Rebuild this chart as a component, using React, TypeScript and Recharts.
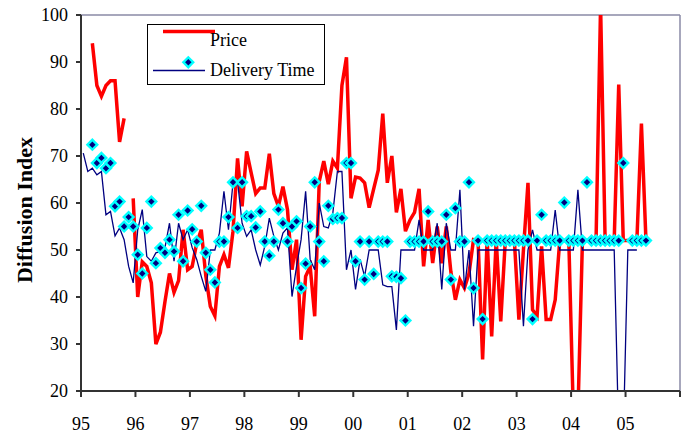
import { ComposedChart, Line, XAxis, YAxis, ReferenceLine, Legend, Label } from 'recharts';

// monthly values, index 0 = Jan 1995
const priceValues: (number | null)[] = [
  null, null, 94, 85, 82.7, 85, 86, 86, 73, 78, null, 61,
  40, 47.5, 46.5, 43, 30, 32.5, 39, 45, 41, 43.5, 54.3, 45.8,
  46.5, 51.5, 54.3, 44.5, 38, 36, 46.5, 49, 46.2, 54, 69.5, 59.3,
  71, 66.4, 62, 63.2, 63.2, 70.5, 62, 59.3, 63.5, 58.6, 45.8, 52.2,
  30.9, 44.4, 46.5, 35.9, 64.6, 68.9, 64, 68.9, 67.4, 85, 91, 61,
  65.5, 65.3, 64.3, 59, 63, 67, 79, 64.3, 70, 58, 63, 54,
  56.4, 58, 63, 46.5, 56.4, 47.2, 55, 47.2, 55, 45.4, 39.4, 43.7,
  41.9, 45, 52.2, 52, 26.7, 52.2, 31.6, 52.2, 34.8, 52, 52, 52,
  35.2, 50, 64.3, 37.3, 35.9, 50.8, 35.2, 35.2, 39.4, 52, 52, 52,
  15, 15, 52, 52, 52, 52, 102, 52, 52, 52, 85.2, 52,
  52, 52, 52, 76.9, 52,
];

const deliveryValues: (number | null)[] = [
  70.6, 66.7, 67.4, 66, 66.7, 57.5, 58.2, 53, 54.7, 52.2, 46.5, 43,
  54.3, 58.6, 48.6, 47.6, 49.4, 49.7, 50.5, 55.7, 47.6, 55.7, 52.2, 54.3,
  50.5, 48, 44.4, 41.2, 50, 50, 53.6, 62.5, 54.3, 64.3, 64.6, 55.7,
  52.9, 54.3, 50, 46.8, 50.8, 56.8, 52.9, 50, 53.6, 54.7, 40.1, 46.5,
  52.2, 62.5, 48, 45.8, 60, 55, 54.7, 57.9, 66.7, 66.7, 45.8, 50,
  41.6, 48, 44.4, 50, 50, 50, 42.6, 42.2, 42.2, 33, 50, 50,
  50, 50, 56.4, 50, 50, 50, 55.7, 41.6, 55.7, 50, 50, 62.8,
  41.6, 50, 33.8, 50, 50, 50, 50, 50, 50, 50, 50, 50,
  50, 33.8, 50, 54.3, 50, 50, 50, 50, 58.5, 50, 50, 50,
  50, 62.8, 50, 50, 50, 50, 50, 50, 50, 50, 10, 10,
  50, 50, 50, null, null,
];

const markerValues: (number | null)[] = [
  null, null, 72.4, 68.5, 69.6, 67.4, 68.5, 59.3, 60.3, 55, 57, 55,
  49, 45, 54.7, 60.3, 47.2, 50.4, 49.4, 52.2, 49.7, 57.5, 47.6, 58.4,
  54.4, 51.8, 59.4, 49.4, 45.8, 43.1, 51.8, 51.8, 57, 64.4, 54.7, 64.4,
  57.2, 57.2, 54.8, 58.2, 51.8, 48.8, 51.8, 58.6, 55.7, 51.8, 55, 56.1,
  41.9, 47.1, 55, 64.4, 51.8, 47.6, 59.4, 56.6, 56.8, 56.8, 68.5, 68.5,
  47.6, 51.8, 43.7, 51.8, 44.9, 51.8, 51.8, 51.8, 44.4, 44.3, 44, 35,
  51.8, 51.8, 51.8, 51.8, 58.2, 51.8, 51.8, 51.8, 57.5, 43.7, 58.9, 51.8,
  51.8, 64.4, 41.9, 52, 35.3, 52, 52, 52, 52, 52, 52, 52,
  52, 52, 52, 35.3, 52, 57.5, 52, 52, 52, 52, 60.1, 52,
  52, 52, 52, 64.4, 52, 52, 52, 52, 52, 52, 52, 68.5,
  null, 52, 52, 52, 52,
];

const xTickLabels = ['95', '96', '97', '98', '99', '00', '01', '02', '03', '04', '05', ''];
const yTicks = [20, 30, 40, 50, 60, 70, 80, 90, 100];

const xTicks = xTickLabels.map((_, k) => k * 12);

const chartData = priceValues.map((p, i) => ({
  month: i + 0.5,
  price: p,
  delivery: deliveryValues[i],
  marker: markerValues[i],
}));

const FONT = "'Liberation Serif', 'Times New Roman', serif";

function DiamondDot(props: any) {
  const { cx, cy, index, payload } = props;
  if (payload?.marker == null || cx == null || cy == null || isNaN(cy)) return <g key={`m-${index}`} />;
  const o = 6.6;
  const n = 3.2;
  return (
    <g key={`m-${index}`}>
      <polygon points={`${cx},${cy - o} ${cx + o},${cy} ${cx},${cy + o} ${cx - o},${cy}`} fill="#00ffff" />
      <polygon points={`${cx},${cy - n} ${cx + n},${cy} ${cx},${cy + n} ${cx - n},${cy}`} fill="#000080" />
    </g>
  );
}

function ChartLegend() {
  return (
    <svg width={178} height={61} style={{ display: 'block' }}>
      <rect x={0.5} y={0.5} width={177} height={60} fill="#fff" stroke="#000" />
      <line x1={16} y1={7.5} x2={68} y2={7.5} stroke="#ff0000" strokeWidth={3.5} />
      <text x={63} y={22} style={{ fontFamily: FONT }} fontSize={18} fill="#000">Price</text>
      <line x1={6} y1={46.5} x2={58} y2={46.5} stroke="#000080" strokeWidth={1.3} />
      <DiamondDot cx={41.3} cy={38.3} index={0} payload={{ marker: 1 }} />
      <text x={63} y={52} style={{ fontFamily: FONT }} fontSize={18} fill="#000">Delivery Time</text>
    </svg>
  );
}

function YLabel(props: any) {
  const { viewBox } = props;
  const cx = 24;
  const cy = viewBox.y + viewBox.height / 2 + 7;
  return (
    <text
      x={cx}
      y={cy}
      transform={`rotate(-90, ${cx}, ${cy})`}
      textAnchor="middle"
      dominantBaseline="central"
      style={{ fontFamily: FONT }}
      fontWeight="bold"
      fontSize={22}
      fill="#000"
    >
      Diffusion Index
    </text>
  );
}

const tickStyle = { fill: '#000', fontSize: 18, style: { fontFamily: FONT } };

export default function App() {
  return (
    <div style={{ position: 'absolute', left: 0, top: 0, background: '#fff', fontFamily: FONT }}>
      <ComposedChart
        width={682}
        height={435}
        data={chartData}
        margin={{ top: 15, right: 2, bottom: 14, left: 0 }}
        style={{ fontFamily: FONT }}
      >
        <XAxis
          dataKey="month"
          type="number"
          domain={[0, 132]}
          ticks={xTicks}
          interval={0}
          tickFormatter={(v: number) => xTickLabels[Math.round(v / 12)]}
          height={30}
          tickSize={6}
          tickMargin={20}
          stroke="#333"
          strokeWidth={2}
          tick={tickStyle}
          allowDataOverflow
        />
        <YAxis
          type="number"
          domain={[20, 100]}
          ticks={yTicks}
          interval={0}
          width={81}
          tickSize={5}
          tickMargin={8}
          stroke="#333"
          strokeWidth={2}
          tick={tickStyle}
          allowDataOverflow
        >
          <Label content={YLabel} />
        </YAxis>
        <ReferenceLine y={100} stroke="#8a8aa6" strokeWidth={1.5} />
        <ReferenceLine x={132} stroke="#8a8aa6" strokeWidth={1.5} />
        <Legend
          layout="vertical"
          align="center"
          verticalAlign="middle"
          content={() => <ChartLegend />}
          wrapperStyle={{ left: 147, top: 24, width: 178, height: 61 }}
        />
        <Line
          type="linear"
          dataKey="price"
          name="Price"
          stroke="#ff0000"
          strokeWidth={3.5}
          dot={false}
          activeDot={false}
          isAnimationActive={false}
        />
        <Line
          type="linear"
          dataKey="delivery"
          name="Delivery Time"
          stroke="#000080"
          strokeWidth={1.3}
          dot={false}
          activeDot={false}
          isAnimationActive={false}
        />
        <Line
          type="linear"
          dataKey="marker"
          stroke="none"
          dot={DiamondDot}
          activeDot={false}
          legendType="none"
          isAnimationActive={false}
        />
      </ComposedChart>
    </div>
  );
}
